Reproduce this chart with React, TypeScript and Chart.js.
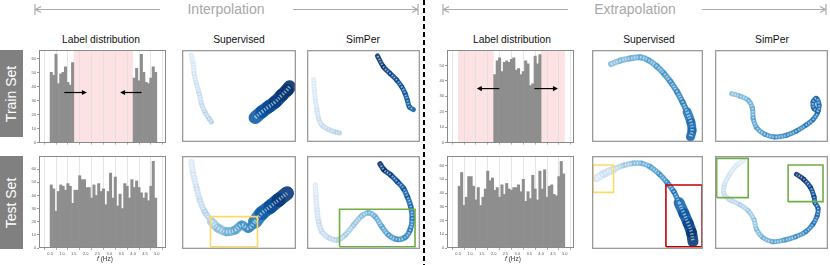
import React, { useEffect, useRef } from 'react';
import { Chart, registerables } from 'chart.js';
Chart.register(...registerables);

// ---------- histogram data ----------
const binCenters = [0.55, 0.65, 0.75, 0.85, 0.95, 1.05, 1.15, 1.25, 1.35, 1.45, 1.55, 1.65, 1.75, 1.85, 1.95, 2.05, 2.15, 2.25, 2.35, 2.45, 2.55, 2.65, 2.75, 2.85, 2.95, 3.05, 3.15, 3.25, 3.35, 3.45, 3.55, 3.65, 3.75, 3.85, 3.95, 4.05, 4.15, 4.25, 4.35, 4.45, 4.55, 4.65, 4.75, 4.85, 4.95];
const freqTicks = [0.5, 1.0, 1.5, 2.0, 2.5, 3.0, 3.5, 4.0, 4.5, 5.0];
const freqTickLabels = ['0.5', '1.0', '1.5', '2.0', '2.5', '3.0', '3.5', '4.0', '4.5', '5.0'];
const countTicks60 = [0, 10, 20, 30, 40, 50, 60];
const countTicks50 = [0, 10, 20, 30, 40, 50];

const N = null;
const interpTrainCounts = [50, 48, 63, 42, 49, 50, 54, 43, 41, 57, N, N, N, N, N, N, N, N, N, N, N, N, N, N, N, N, N, N, N, N, N, N, N, N, N, 46, 53, 44, 63, 50, 43, 42, 46, 54, 50];
const interpTestCounts = [48, 45, 28, 43, 48, 47, 44, 49, 47, 34, 44, 44, 55, 52, 52, 46, 46, 38, 48, 40, 49, 43, 45, 33, 43, 57, 38, 54, 32, 41, 30, 49, 47, 38, 52, 46, 51, 46, 42, 38, 42, 36, 47, 66, 38];
const extrapTrainCounts = [N, N, N, N, N, N, N, N, N, N, N, N, N, N, N, 44, 53, 55, 46, 52, 53, 52, 54, 55, 47, 48, 44, 46, 53, 51, 37, 38, 56, 51, 57, N, N, N, N, N, N, N, N, N, N];
const extrapTestCounts = [45, 55, 31, 37, 52, 52, 45, 35, 44, 31, 37, 43, 56, 49, 51, 42, 44, 37, 46, 39, 47, 43, 42, 44, 44, 46, 41, 50, 34, 41, 36, 53, 43, 35, 56, 43, 57, 37, 45, 46, 39, 38, 52, 63, 54];

const interpShade = [[1.5, 4.0]];
const extrapShade = [[0.5, 2.0], [4.0, 5.0]];
// [fromF, toF, count]
const interpArrows = [[1.1, 2.05, 35.7], [4.36, 3.45, 35.7]];
const extrapArrows = [[2.24, 1.29, 35], [3.72, 4.71, 35]];

// ---------- embedding data: [x, y, label frequency] ----------
const supInterpTrainLow = [[8.2, 94.5, 0.5], [9.7, 85.5, 0.6], [10.6, 74.5, 0.75], [12.6, 63.6, 0.9], [15, 52.7, 1.0], [17, 41.8, 1.15], [20, 32.7, 1.3], [23.8, 25.5, 1.4], [25.9, 21.8, 1.5]];
const supInterpTrainHigh = [[64.1, 26.5, 4.0], [70, 32.7, 4.2], [75.9, 38.2, 4.4], [81.8, 43.6, 4.6], [87.6, 50.9, 4.8], [92.1, 56.4, 4.9], [94.4, 60, 5.0]];
const simInterpTrainLow = [[5.9, 68, 0.5], [6.5, 56.4, 0.6], [7.4, 45.5, 0.7], [8.8, 34.5, 0.85], [10.3, 25.5, 1.0], [13.2, 18.2, 1.1], [19.1, 13.5, 1.25], [25, 10.9, 1.4], [28.8, 9.8, 1.5]];
const simInterpTrainHigh = [[62.4, 93.5, 5.0], [67.6, 81.8, 4.85], [73.5, 74.5, 4.7], [79.4, 67.3, 4.55], [83.8, 60, 4.4], [86.8, 52.7, 4.3], [88.8, 45.5, 4.2], [90.6, 38.2, 4.1], [94.1, 35.3, 4.0]];

const supInterpTestA = [[8.2, 93.9, 0.5], [9.7, 81.4, 0.7], [12.6, 67, 0.9], [15.6, 52.7, 1.1], [20, 40.1, 1.3], [25.9, 29.4, 1.6]];
const supInterpTestB = [[25.9, 29.4, 1.6], [31.8, 22.2, 1.9], [39.1, 18.6, 2.2], [46.5, 20.4, 2.5], [52.4, 25.8, 2.8], [58.2, 22.2, 3.1], [64.1, 29.4, 3.5]];
const supInterpTestC = [[64.1, 29.4, 3.5], [70, 38.4, 3.9], [77.4, 45.5, 4.3], [84.7, 52.7, 4.6], [92.1, 59.9, 5.0]];
const simInterpTest = [[7.4, 68.8, 0.5], [7.9, 56.3, 0.65], [8.8, 41.9, 0.8], [10.3, 29.4, 0.95], [13.2, 18.6, 1.1], [19.1, 12.2, 1.25], [26.5, 9.7, 1.4], [33.8, 15.1, 1.6], [41.2, 25.8, 1.8], [48.5, 35.5, 2.0], [54.4, 39.1, 2.2], [60.3, 34.8, 2.4], [66.2, 24, 2.6], [72.1, 15.1, 2.8], [79.4, 10.4, 3.0], [86.8, 12.5, 3.2], [91.2, 20.4, 3.4], [93.2, 33, 3.6], [91.8, 45.5, 3.8], [88.8, 56.3, 4.0], [85.3, 65.2, 4.2], [80, 72.4, 4.4], [74.1, 79.6, 4.6], [68.2, 85, 4.8], [64.7, 91.4, 5.0]];

const supExtrapTrainA = [[17, 84.7, 2.0], [25.4, 88.4, 2.15], [34.3, 90.9, 2.3], [43.3, 92, 2.45], [50.7, 89.1, 2.6], [58.2, 82.5, 2.75], [64.8, 74.5, 2.9], [70.7, 65.5, 3.05], [76.7, 54.5, 3.2], [81.5, 43.6, 3.35], [85.7, 32.7, 3.5]];
const supExtrapTrainB = [[85.7, 32.7, 3.5], [89, 21.8, 3.7], [90.1, 12.7, 3.85], [88.7, 5.5, 4.0]];
const simExtrapTrain = [[14.7, 52.7, 2.0], [22.1, 49.8, 2.15], [29.4, 45.5, 2.3], [33.2, 36.4, 2.45], [33.8, 25.5, 2.6], [36.8, 15.6, 2.75], [44.1, 8.4, 2.9], [52.9, 5.5, 3.05], [63.2, 7.3, 3.2], [72.1, 12, 3.35], [80.3, 18.2, 3.5], [86.8, 24.4, 3.6], [90.6, 31.6, 3.7], [92.1, 40, 3.8], [89.7, 47.3, 3.85], [86.8, 43.6, 3.9], [87.6, 36.4, 3.95], [91.2, 33.5, 4.0]];

const supExtrapTestA = [[3.9, 76, 0.5], [10.4, 80.6, 0.8], [19.4, 85.7, 1.2]];
const supExtrapTestB = [[19.4, 85.7, 1.2], [28.4, 89.9, 1.6], [37.3, 92.1, 2.0], [44.8, 92.1, 2.3], [52.2, 88.5, 2.6], [60.6, 80.6, 2.9], [67.8, 71.3, 3.2], [73.7, 61.6, 3.5], [78.5, 49.8, 3.8]];
const supExtrapTestC = [[78.5, 49.8, 3.8], [82.7, 38.4, 4.1], [86.6, 27.6, 4.4], [89.6, 17.6, 4.7], [91, 7.9, 5.0]];
const simExtrapTest = [[25, 95, 0.5], [18.5, 89.2, 0.65], [12.6, 79.6, 0.8], [8.2, 68.8, 0.95], [7.9, 59.1, 1.1], [12.6, 53.4, 1.25], [21.5, 48, 1.45], [29.4, 41.2, 1.65], [34.4, 31.9, 1.85], [36.8, 21.1, 2.05], [42.1, 12.5, 2.3], [50.9, 7.9, 2.55], [61.8, 9.7, 2.8], [71.5, 13.3, 3.05], [80.3, 18.6, 3.3], [86.8, 26.9, 3.55], [90.3, 35.5, 3.8], [91.2, 43.7, 4.0], [88.5, 49.8, 4.2], [87.6, 56.3, 4.4], [84.4, 66.3, 4.6], [78.5, 74.9, 4.8], [72.1, 80.3, 5.0]];

// highlight boxes [x0, y0, x1, y1]
const boxSupInterpTest = [25, 2.5, 66.2, 34.8];
const boxSimInterpTest = [28.8, 2.5, 95.6, 42.7];
const boxSupExtrapTestLow = [0.9, 60.9, 19.4, 90.3];
const boxSupExtrapTestHigh = [66.6, 2.5, 99.1, 68.8];
const boxSimExtrapTestLow = [1.5, 55.2, 29.4, 97.5];
const boxSimExtrapTestHigh = [64.7, 50.9, 95.6, 90.3];

// ---------- styling helpers ----------
const FONT = '"Liberation Sans", Arial, Helvetica, sans-serif';
const BLUES = ['#f7fbff', '#deebf7', '#c6dbef', '#9ecae1', '#6baed6', '#4292c6', '#2171b5', '#08519c', '#08306b'];
function hexToRgb(h: string) {
  return [parseInt(h.slice(1, 3), 16), parseInt(h.slice(3, 5), 16), parseInt(h.slice(5, 7), 16)];
}
function blues(f: number, alpha = 1): string {
  let n = 0.12 + 0.88 * (f - 0.5) / 4.5;
  n = Math.max(0, Math.min(1, n));
  const p = n * 8;
  const i = Math.min(7, Math.floor(p));
  const fr = p - i;
  const a = hexToRgb(BLUES[i]);
  const b = hexToRgb(BLUES[i + 1]);
  const c = a.map((v, k) => Math.round(v + (b[k] - v) * fr));
  return `rgba(${c[0]},${c[1]},${c[2]},${alpha})`;
}

const framePlugin = (color: string, lw: number) => ({
  id: 'frame',
  afterDraw(chart: any) {
    const { ctx, chartArea: a } = chart;
    ctx.save();
    ctx.strokeStyle = color;
    ctx.lineWidth = lw;
    const o = lw / 2;
    ctx.strokeRect(Math.round(a.left) + o, Math.round(a.top) + o, Math.round(a.right - a.left) - lw, Math.round(a.bottom - a.top) - lw);
    ctx.restore();
  },
});

const shadePlugin = (ranges: number[][]) => ({
  id: 'shade',
  beforeDraw(chart: any) {
    const { ctx, chartArea: a, scales } = chart;
    ctx.save();
    ctx.fillStyle = '#fde2e4';
    for (const [r0, r1] of ranges) {
      const p0 = scales.x.getPixelForValue(r0);
      const p1 = scales.x.getPixelForValue(r1);
      ctx.fillRect(p0, a.top, p1 - p0, a.bottom - a.top);
    }
    ctx.restore();
  },
});

const arrowPlugin = (arrows: number[][]) => ({
  id: 'arrows',
  afterDatasetsDraw(chart: any) {
    const { ctx, scales } = chart;
    ctx.save();
    ctx.strokeStyle = '#000';
    ctx.fillStyle = '#000';
    ctx.lineWidth = 1.2;
    for (const [f0, f1, c] of arrows) {
      const x0 = scales.x.getPixelForValue(f0);
      const x1 = scales.x.getPixelForValue(f1);
      const y = scales.y.getPixelForValue(c);
      const d = Math.sign(x1 - x0);
      ctx.beginPath();
      ctx.moveTo(x0, y);
      ctx.lineTo(x1 - d * 4, y);
      ctx.stroke();
      ctx.beginPath();
      ctx.moveTo(x1, y);
      ctx.lineTo(x1 - d * 5, y - 2.6);
      ctx.lineTo(x1 - d * 5, y + 2.6);
      ctx.closePath();
      ctx.fill();
    }
    ctx.restore();
  },
});

function histConfig(counts: (number | null)[], yMax: number, yTicks: number[], showX: boolean, shade: number[][], arrows: number[][]) {
  return {
    type: 'bar',
    data: {
      datasets: [{
        data: binCenters.map((x, i) => ({ x, y: counts[i] })),
        backgroundColor: '#8e8e8e',
        borderWidth: 0,
        barPercentage: 1,
        categoryPercentage: 1,
        grouped: false,
      }],
    },
    options: {
      animation: false,
      responsive: false,
      layout: { padding: { top: 4, right: 2, left: 0, bottom: 0 } },
      plugins: { legend: { display: false }, tooltip: { enabled: false } },
      scales: {
        x: {
          type: 'linear', min: 0.3, max: 5.12,
          afterBuildTicks: (s: any) => { s.ticks = freqTicks.map((v) => ({ value: v })); },
          afterFit: (s: any) => { s.height = showX ? 14 : 3; },
          grid: { color: '#dedede', lineWidth: 0.8, tickLength: 2, tickColor: '#999' },
          border: { display: false },
          ticks: {
            display: showX, autoSkip: false, maxRotation: 0, padding: 1,
            font: { size: 4, family: FONT }, color: '#555',
            callback: (_v: any, i: number) => freqTickLabels[i],
          },
        },
        y: {
          min: 0, max: yMax,
          afterBuildTicks: (s: any) => { s.ticks = yTicks.map((v) => ({ value: v })); },
          afterFit: (s: any) => { s.width = 11; },
          grid: { drawOnChartArea: false, tickLength: 2, tickColor: '#999' },
          border: { display: false },
          ticks: { padding: 1, font: { size: 4, family: FONT }, color: '#555' },
        },
      },
    },
    plugins: [shadePlugin(shade), framePlugin('#8a8a8a', 1), arrowPlugin(arrows)],
  };
}

type Curve = { pts: number[][]; w: number };
type Box = { r: number[]; color: string };

function scatterConfig(curves: Curve[], boxes: Box[]) {
  // Chart.js paints the first dataset on top, so boxes come first, then texture, then bands.
  const boxSets: any[] = [];
  const texSets: any[] = [];
  const bandSets: any[] = [];
  for (const b of boxes) {
    const [x0, y0, x1, y1] = b.r;
    boxSets.push({
      data: [{ x: x0, y: y0 }, { x: x1, y: y0 }, { x: x1, y: y1 }, { x: x0, y: y1 }, { x: x0, y: y0 }],
      showLine: true,
      borderColor: b.color,
      borderWidth: 1.6,
      tension: 0,
      pointRadius: 0,
      fill: false,
      borderJoinStyle: 'miter',
      clip: 0,
    });
  }
  for (const c of curves) {
    const pts = c.pts;
    texSets.push({
      data: pts.map((p) => ({ x: p[0], y: p[1] })),
      showLine: true,
      borderWidth: Math.min(3.5, Math.max(1.2, c.w * 0.42)),
      borderColor: 'rgba(255,255,255,0.55)',
      borderDash: [1.4, 1.6],
      borderCapStyle: 'butt',
      tension: 0.4,
      pointRadius: 0,
      fill: false,
      clip: 0,
    });
    bandSets.push({
      data: pts.map((p) => ({ x: p[0], y: p[1] })),
      showLine: true,
      borderWidth: c.w,
      borderColor: blues(pts[0][2], 0.9),
      segment: { borderColor: (ctx: any) => blues((pts[ctx.p0DataIndex][2] + pts[ctx.p1DataIndex][2]) / 2, 0.9) },
      borderCapStyle: 'round',
      borderJoinStyle: 'round',
      tension: 0.4,
      pointRadius: 0,
      fill: false,
      clip: 0,
    });
  }
  return {
    type: 'scatter',
    data: { datasets: [...boxSets, ...texSets, ...bandSets] },
    options: {
      animation: false,
      responsive: false,
      layout: { padding: 0 },
      plugins: { legend: { display: false }, tooltip: { enabled: false } },
      scales: {
        x: { type: 'linear', min: 0, max: 100, display: false },
        y: { type: 'linear', min: 0, max: 100, display: false },
      },
    },
    plugins: [framePlugin('#9a9a9a', 1.3)],
  };
}

function ChartCanvas({ left, top, width, height, make }: { left: number; top: number; width: number; height: number; make: () => any }) {
  const ref = useRef<HTMLCanvasElement | null>(null);
  useEffect(() => {
    if (!ref.current) return;
    const chart = new Chart(ref.current, make());
    return () => chart.destroy();
  }, []);
  return <canvas ref={ref} width={width} height={height} style={{ position: 'absolute', left, top, width, height }} />;
}

const YELLOW = '#ffd966';
const RED = '#c00000';
const GREEN = '#70ad47';

function Txt({ x, y, size, color, children }: any) {
  return (
    <div style={{ position: 'absolute', left: x - 100, top: y - size, width: 200, height: size * 2, lineHeight: `${size * 2}px`, textAlign: 'center', fontSize: size, color, fontFamily: FONT, whiteSpace: 'nowrap' }}>
      {children}
    </div>
  );
}

function RowLabel({ top, height, text }: any) {
  return (
    <div style={{ position: 'absolute', left: 0, top, width: 23, height, background: '#808080', display: 'flex', alignItems: 'center', justifyContent: 'center', overflow: 'hidden' }}>
      <div style={{ transform: 'rotate(-90deg)', color: '#fff', fontSize: 14, fontFamily: FONT, whiteSpace: 'nowrap' }}>{text}</div>
    </div>
  );
}

export default function App() {
  return (
    <div style={{ position: 'fixed', left: 0, top: 0, width: 830, height: 265, background: '#fff', overflow: 'hidden' }}>
      <svg width={830} height={265} style={{ position: 'absolute', left: 0, top: 0 }}>
        <g stroke="#aaaaaa" strokeWidth={1.2} fill="none">
          <line x1={35} y1={9.5} x2={160} y2={9.5} />
          <line x1={35} y1={4} x2={35} y2={15} />
          <polyline points="41,6.5 35.5,9.5 41,12.5" />
          <line x1={293} y1={9.5} x2={417} y2={9.5} />
          <line x1={418} y1={4} x2={418} y2={15} />
          <polyline points="412,6.5 417.5,9.5 412,12.5" />
          <line x1={443} y1={9.5} x2={568} y2={9.5} />
          <line x1={443} y1={4} x2={443} y2={15} />
          <polyline points="449,6.5 443.5,9.5 449,12.5" />
          <line x1={702} y1={9.5} x2={825} y2={9.5} />
          <line x1={826} y1={4} x2={826} y2={15} />
          <polyline points="820,6.5 825.5,9.5 820,12.5" />
        </g>
        <line x1={424} y1={0} x2={424} y2={265} stroke="#000" strokeWidth={2} strokeDasharray="5 3" />
      </svg>
      <Txt x={226} y={9} size={14} color="#a8a8a8">Interpolation</Txt>
      <Txt x={635} y={9} size={14} color="#a8a8a8">Extrapolation</Txt>

      <Txt x={101} y={40} size={10.3} color="#111">Label distribution</Txt>
      <Txt x={239} y={40} size={10.3} color="#111">Supervised</Txt>
      <Txt x={363} y={40} size={10.3} color="#111">SimPer</Txt>
      <Txt x={512} y={40} size={10.3} color="#111">Label distribution</Txt>
      <Txt x={649} y={40} size={10.3} color="#111">Supervised</Txt>
      <Txt x={772} y={40} size={10.3} color="#111">SimPer</Txt>

      <RowLabel top={50} height={87} text="Train Set" />
      <RowLabel top={156} height={93} text="Test Set" />

      <ChartCanvas left={28} top={46} width={140} height={100} make={() => histConfig(interpTrainCounts, 66, countTicks60, false, interpShade, interpArrows)} />
      <ChartCanvas left={28} top={152} width={140} height={110} make={() => histConfig(interpTestCounts, 70, countTicks60, true, [], [])} />
      <ChartCanvas left={436} top={46} width={140} height={100} make={() => histConfig(extrapTrainCounts, 60, countTicks50, false, extrapShade, extrapArrows)} />
      <ChartCanvas left={436} top={152} width={140} height={110} make={() => histConfig(extrapTestCounts, 67, countTicks60, true, [], [])} />
      <Txt x={105} y={258} size={6.5} color="#333"><i>f</i> (Hz)</Txt>
      <Txt x={513} y={258} size={6.5} color="#333"><i>f</i> (Hz)</Txt>

      <ChartCanvas left={182} top={50} width={114} height={92} make={() => scatterConfig([{ pts: supInterpTrainLow, w: 5 }, { pts: supInterpTrainHigh, w: 13 }], [])} />
      <ChartCanvas left={307} top={50} width={113} height={92} make={() => scatterConfig([{ pts: simInterpTrainLow, w: 5 }, { pts: simInterpTrainHigh, w: 5 }], [])} />
      <ChartCanvas left={182} top={156} width={114} height={93} make={() => scatterConfig([{ pts: supInterpTestA, w: 6 }, { pts: supInterpTestB, w: 9 }, { pts: supInterpTestC, w: 14 }], [{ r: boxSupInterpTest, color: YELLOW }])} />
      <ChartCanvas left={307} top={156} width={113} height={93} make={() => scatterConfig([{ pts: simInterpTest, w: 5.5 }], [{ r: boxSimInterpTest, color: GREEN }])} />

      <ChartCanvas left={592} top={50} width={111} height={92} make={() => scatterConfig([{ pts: supExtrapTrainA, w: 6 }, { pts: supExtrapTrainB, w: 9 }], [])} />
      <ChartCanvas left={715} top={50} width={113} height={92} make={() => scatterConfig([{ pts: simExtrapTrain, w: 5 }], [])} />
      <ChartCanvas left={592} top={156} width={111} height={93} make={() => scatterConfig([{ pts: supExtrapTestA, w: 8 }, { pts: supExtrapTestB, w: 5.5 }, { pts: supExtrapTestC, w: 11 }], [{ r: boxSupExtrapTestLow, color: YELLOW }, { r: boxSupExtrapTestHigh, color: RED }])} />
      <ChartCanvas left={715} top={156} width={113} height={93} make={() => scatterConfig([{ pts: simExtrapTest, w: 5 }], [{ r: boxSimExtrapTestLow, color: GREEN }, { r: boxSimExtrapTestHigh, color: GREEN }])} />
    </div>
  );
}
